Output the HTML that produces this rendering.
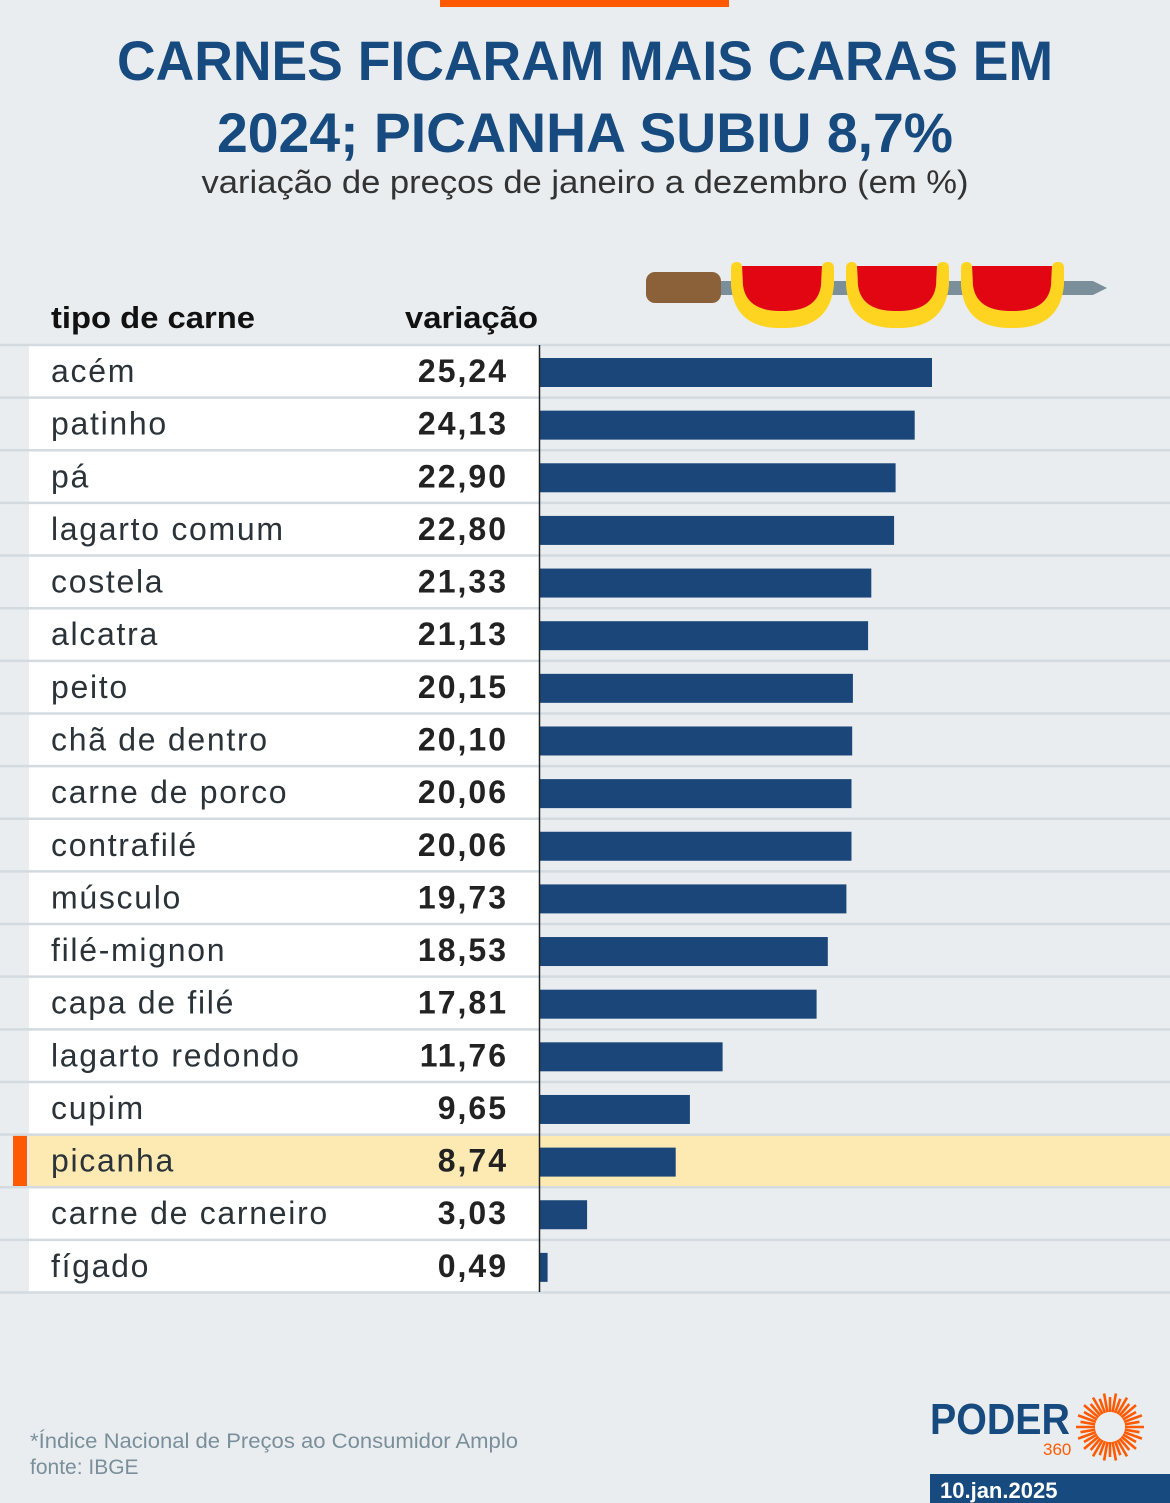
<!DOCTYPE html>
<html><head><meta charset="utf-8"><style>
html,body{margin:0;padding:0;background:#e9edf0;}
svg{display:block;}
text{font-family:"Liberation Sans",sans-serif;}
</style></head><body>
<svg id="s" width="1170" height="1503" viewBox="0 0 1170 1503" xmlns="http://www.w3.org/2000/svg">
<rect width="1170" height="1503" fill="#e9edf0"/>
<rect x="440" y="0" width="289" height="7" fill="#ff5a00"/>
<text x="585" y="80" text-anchor="middle" font-size="56" font-weight="bold" fill="#174a7e" textLength="936" lengthAdjust="spacingAndGlyphs">CARNES FICARAM MAIS CARAS EM</text>
<text x="585" y="152" text-anchor="middle" font-size="56" font-weight="bold" fill="#174a7e" textLength="736" lengthAdjust="spacingAndGlyphs">2024; PICANHA SUBIU 8,7%</text>
<text x="585" y="193" text-anchor="middle" font-size="32" fill="#333" textLength="767" lengthAdjust="spacingAndGlyphs">variação de preços de janeiro a dezembro (em %)</text>
<!-- skewer -->
<polygon points="720,281 1093,281 1107,288 1093,295 720,295" fill="#7a8f9a"/>
<rect x="646" y="272" width="75" height="31" rx="9" fill="#8b613a"/>
<g id="meat">
<path d="M731,268 Q731,262 737,262 Q742,262 742,268 L743,285 Q746,310 778,311 L786,311 Q818,310 821,285 L822,268 Q822,262 828,262 Q834,262 834,268 L834,285 Q830,327 786,328 L778,328 Q734,327 731,285 Z" fill="#ffd420"/>
<path d="M742,266 L822,266 L821,285 Q818,310 786,311 L778,311 Q746,310 743,285 Z" fill="#e20613"/>
</g>
<use href="#meat" x="115"/>
<use href="#meat" x="230"/>
<text x="51" y="328" font-size="31" font-weight="bold" fill="#111" textLength="204" lengthAdjust="spacingAndGlyphs">tipo de carne</text>
<text x="538" y="328" text-anchor="end" font-size="31" font-weight="bold" fill="#111" textLength="133" lengthAdjust="spacingAndGlyphs">variação</text>
<g id="rows"></g>
<line x1="539.5" y1="345" x2="539.5" y2="1292" stroke="#222" stroke-width="1.5"/>
<text x="30" y="1448" font-size="21" fill="#7a8f9a" textLength="488" lengthAdjust="spacingAndGlyphs">*Índice Nacional de Preços ao Consumidor Amplo</text>
<text x="30" y="1474" font-size="21" fill="#7a8f9a">fonte: IBGE</text>
<text x="930" y="1434" font-size="44" font-weight="bold" fill="#174a7e" textLength="140" lengthAdjust="spacingAndGlyphs">PODER</text>
<text x="1043" y="1455" font-size="17" fill="#ff5a00">360</text>
<g id="sun"></g>
<rect x="930" y="1474" width="240" height="29" fill="#174a7e"/>
<text x="940" y="1498" font-size="22" font-weight="bold" fill="#fff">10.jan.2025</text>
</svg>
<script>
var d=[["acém","25,24"],["patinho","24,13"],["pá","22,90"],["lagarto comum","22,80"],["costela","21,33"],["alcatra","21,13"],["peito","20,15"],["chã de dentro","20,10"],["carne de porco","20,06"],["contrafilé","20,06"],["músculo","19,73"],["filé-mignon","18,53"],["capa de filé","17,81"],["lagarto redondo","11,76"],["cupim","9,65"],["picanha","8,74"],["carne de carneiro","3,03"],["fígado","0,49"]];
var h="",H=52.64;
d.forEach(function(r,i){
var t=345+i*H,v=parseFloat(r[1].replace(",","."));
if(i==15){h+='<rect x="29" y="'+t+'" width="1141" height="'+H+'" fill="#fdeab3"/><rect x="13" y="'+(t+1)+'" width="14" height="'+(H-2)+'" fill="#ff5a00"/>';}
else h+='<rect x="29" y="'+t+'" width="510" height="'+H+'" fill="#fff"/>';
h+='<line x1="0" x2="1170" y1="'+t+'" y2="'+t+'" stroke="#d3dbe1" stroke-width="2.5"/>';
h+='<rect x="540" y="'+(t+13)+'" width="'+(v*15.53).toFixed(1)+'" height="29" fill="#1b4679"/>';
h+='<text x="51" y="'+(t+37)+'" font-size="32" letter-spacing="1.7" fill="#2b3338">'+r[0]+'</text>';
h+='<text x="508" y="'+(t+37)+'" text-anchor="end" font-size="32" letter-spacing="2" font-weight="bold" fill="#222">'+r[1]+'</text>';
});
h+='<line x1="0" x2="1170" y1="1292.5" y2="1292.5" stroke="#d3dbe1" stroke-width="2.5"/>';
document.getElementById("rows").innerHTML=h;
var s="",cx=1110,cy=1427;
for(var k=0;k<36;k++){var a=k*10*Math.PI/180,r1=15,r2=(k%2?30:34);
s+='<line x1="'+(cx+r1*Math.cos(a)).toFixed(1)+'" y1="'+(cy+r1*Math.sin(a)).toFixed(1)+'" x2="'+(cx+r2*Math.cos(a)).toFixed(1)+'" y2="'+(cy+r2*Math.sin(a)).toFixed(1)+'" stroke="#ff5a00" stroke-width="2.6"/>';}
document.getElementById("sun").innerHTML=s;
</script>
</body></html>
